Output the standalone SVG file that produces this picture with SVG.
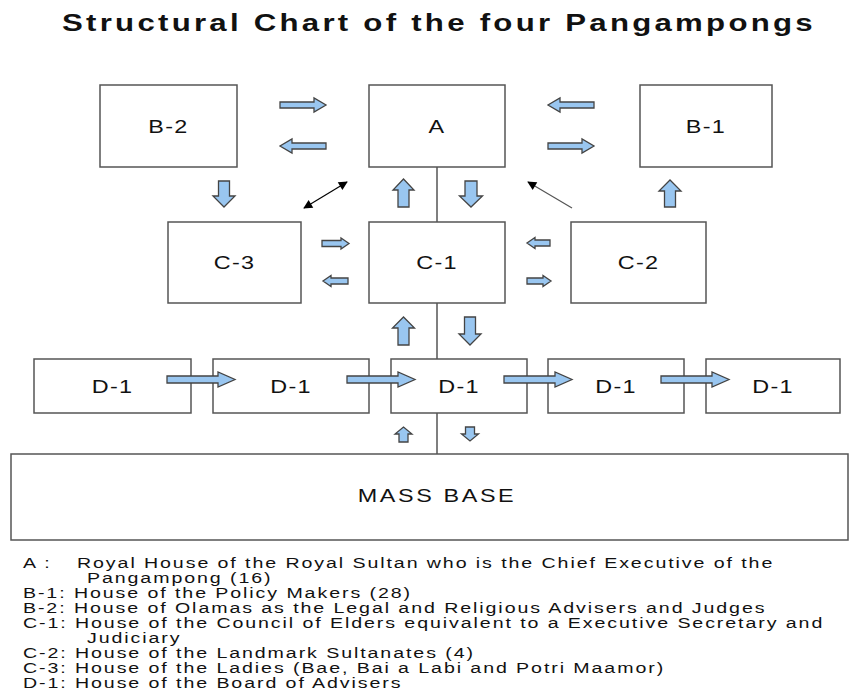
<svg xmlns="http://www.w3.org/2000/svg" width="853" height="697" viewBox="0 0 853 697">
<style>
.box{fill:#fff;stroke:#555;stroke-width:1.5}
.lbl{font-family:"Liberation Sans",Arial,sans-serif;font-size:18px;fill:#111;text-anchor:middle;letter-spacing:1px}
.blk{fill:#99c6f0;stroke:#444;stroke-width:1.3;stroke-linejoin:miter}
.leg{font-family:"Liberation Sans",Arial,sans-serif;font-size:14px;fill:#111;letter-spacing:1.37px}
.title{font-family:"Liberation Sans",Arial,sans-serif;font-size:24px;font-weight:bold;fill:#111;letter-spacing:2.5px}
.vl{stroke:#555;stroke-width:1.5;fill:none}
</style>
<defs>
<marker id="ah" viewBox="0 0 10 10" refX="9" refY="5" markerWidth="14" markerHeight="9" orient="auto-start-reverse" markerUnits="userSpaceOnUse"><path d="M0,0 L10,5 L0,10 Z" fill="#000"/></marker>
<path id="darr" d="M167,376 H218 V372 L235,379.5 L218,387 V383 H167 Z"/>
</defs>
<rect width="853" height="697" fill="#fff"/>
<text class="title" transform="scale(1.3,1)" x="47.7" y="31">Structural Chart of the four Pangampongs</text>

<g id="nodeB2"><rect class="box" x="100" y="85" width="137" height="82"/><text class="lbl" transform="translate(168.5,132.5) scale(1.3,1)">B-2</text></g>
<g id="nodeA"><rect class="box" x="369" y="85" width="136" height="82"/><text class="lbl" transform="translate(437,132.5) scale(1.3,1)">A</text></g>
<g id="nodeB1"><rect class="box" x="640" y="85" width="132" height="82"/><text class="lbl" transform="translate(706,132.5) scale(1.3,1)">B-1</text></g>
<g id="nodeC3"><rect class="box" x="168" y="222" width="133" height="81"/><text class="lbl" transform="translate(234.5,269) scale(1.3,1)">C-3</text></g>
<g id="nodeC1"><rect class="box" x="369" y="222" width="136" height="81"/><text class="lbl" transform="translate(437,269) scale(1.3,1)">C-1</text></g>
<g id="nodeC2"><rect class="box" x="571" y="222" width="135" height="81"/><text class="lbl" transform="translate(638.5,269) scale(1.3,1)">C-2</text></g>
<g id="nodeD1a"><rect class="box" x="34" y="359" width="157" height="54"/><text class="lbl" transform="translate(112.5,392.5) scale(1.3,1)">D-1</text></g>
<g id="nodeD1b"><rect class="box" x="213" y="359" width="156" height="54"/><text class="lbl" transform="translate(291,392.5) scale(1.3,1)">D-1</text></g>
<g id="nodeD1c"><rect class="box" x="391" y="359" width="136" height="54"/><text class="lbl" transform="translate(459,392.5) scale(1.3,1)">D-1</text></g>
<g id="nodeD1d"><rect class="box" x="548" y="359" width="136" height="54"/><text class="lbl" transform="translate(616,392.5) scale(1.3,1)">D-1</text></g>
<g id="nodeD1e"><rect class="box" x="706" y="359" width="134" height="54"/><text class="lbl" transform="translate(773,392.5) scale(1.3,1)">D-1</text></g>
<g id="nodeMass"><rect class="box" x="11" y="454" width="837" height="86"/><text class="lbl" style="letter-spacing:2px" transform="translate(437,502) scale(1.3,1)">MASS BASE</text></g>

<g id="connectors">
<path class="vl" d="M437,167 V222 M437,303 V359 M437,413 V454"/>
<path class="blk" d="M280,102 H314 V98 L326,105 L314,112 V108 H280 Z"/>
<path class="blk" d="M326,143 H292 V139 L280,146 L292,153 V149 H326 Z"/>
<path class="blk" d="M594,102 H560 V98 L548,105 L560,112 V108 H594 Z"/>
<path class="blk" d="M548,143 H582 V139 L594,146 L582,153 V149 H548 Z"/>
<path class="blk" d="M398,207 V190 H393 L403.5,179 L414,190 H409 V207 Z"/>
<path class="blk" d="M465,181 V196 H459.5 L471,207 L482.5,196 H477 V181 Z"/>
<path class="blk" d="M218.5,181 V196 H213 L224,207 L235,196 H229.5 V181 Z"/>
<path class="blk" d="M664.5,207 V191 H659 L670,180 L681,191 H675.5 V207 Z"/>
<path class="blk" d="M322,240.5 H341 V238 L349,243.5 L341,249 V246.5 H322 Z"/>
<path class="blk" d="M348,278 H331 V275.5 L323,281 L331,286.5 V284 H348 Z"/>
<path class="blk" d="M550,240 H535 V237.5 L527,243 L535,248.5 V246 H550 Z"/>
<path class="blk" d="M527,278 H543 V275.5 L551,281 L543,286.5 V284 H527 Z"/>
<path class="blk" d="M398,345 V328 H392.5 L403.5,317 L414.5,328 H409 V345 Z"/>
<path class="blk" d="M464.5,317 V334 H459 L470,345 L481,334 H475.5 V317 Z"/>
<path class="blk" d="M399,442 V434 H395 L403.5,427 L412,434 H408 V442 Z"/>
<path class="blk" d="M465.5,427 V434 H461.5 L470,441 L478.5,434 H474.5 V427 Z"/>
<use href="#darr" class="blk"/>
<use href="#darr" class="blk" transform="translate(180,0)"/>
<use href="#darr" class="blk" transform="translate(337,0)"/>
<use href="#darr" class="blk" transform="translate(494,0)"/>
<line x1="304" y1="208" x2="347" y2="182" stroke="#000" stroke-width="1.2" marker-start="url(#ah)" marker-end="url(#ah)"/>
<line x1="572" y1="208" x2="528" y2="182" stroke="#555" stroke-width="1.2" marker-end="url(#ah)"/>
</g>

<g id="legend" transform="scale(1.4,1)">
<text class="leg" x="16.4" y="568">A :</text>
<text class="leg" x="55" y="568">Royal House of the Royal Sultan who is the Chief Executive of the</text>
<text class="leg" x="62.1" y="583">Pangampong (16)</text>
<text class="leg" x="16.4" y="598">B-1: House of the Policy Makers (28)</text>
<text class="leg" x="16.4" y="613">B-2: House of Olamas as the Legal and Religious Advisers and Judges</text>
<text class="leg" x="16.4" y="628">C-1: House of the Council of Elders equivalent to a Executive Secretary and</text>
<text class="leg" x="62.1" y="643">Judiciary</text>
<text class="leg" x="16.4" y="658">C-2: House of the Landmark Sultanates (4)</text>
<text class="leg" x="16.4" y="673">C-3: House of the Ladies (Bae, Bai a Labi and Potri Maamor)</text>
<text class="leg" x="16.4" y="688">D-1: House of the Board of Advisers</text>
</g>
</svg>
